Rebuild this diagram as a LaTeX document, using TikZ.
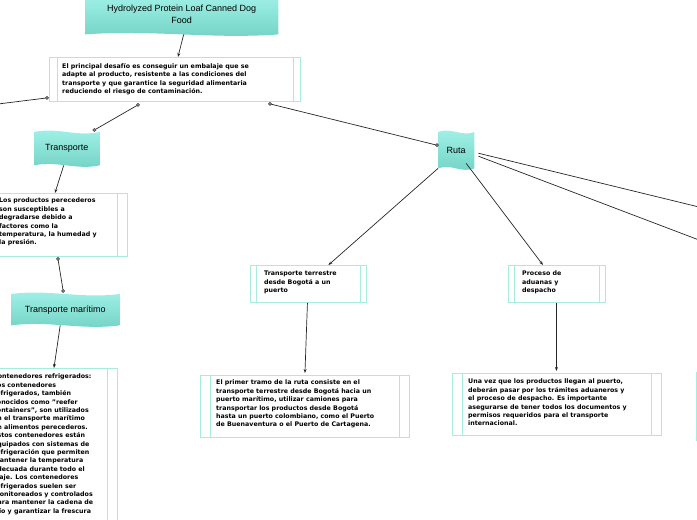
\documentclass[tikz,border=0pt]{standalone}
\usepackage{fontspec}
\setmainfont{DejaVu Sans}
\newfontfamily\flagfont{Liberation Sans}
\usetikzlibrary{calc,arrows.meta}
\definecolor{boxc}{HTML}{A8ECDC}
\definecolor{ftop}{HTML}{A2F2E8}
\definecolor{fbot}{HTML}{72D2C4}
\tikzset{
  box/.style={draw=boxc,line width=0.9pt,fill=white,inner sep=0pt,anchor=north west},
  txt/.style={anchor=north west,align=left,inner sep=0pt,font=\bfseries\fontsize{6.3}{8.4}\selectfont},
  flagn/.style={inner sep=0pt,anchor=north west,font=\flagfont\fontsize{9}{11.5}\selectfont,align=center},
  con/.style={draw=black!85,line width=0.7pt},
  arr/.style={con,-{Stealth[length=4pt,width=3pt]}},
  dot/.style={circle,fill=gray!70,draw=black!70,inner sep=0pt,minimum size=3pt}
}
\newcommand{\flagbg}[1]{%
  \path[top color=ftop,bottom color=fbot]
   (#1.north west) .. controls ($(#1.north west)!0.35!(#1.north east)+(0,-5)$) and ($(#1.north west)!0.65!(#1.north east)+(0,5)$) .. (#1.north east)
   -- (#1.south east) .. controls ($(#1.south west)!0.65!(#1.south east)+(0,5)$) and ($(#1.south west)!0.35!(#1.south east)+(0,-5)$) .. (#1.south west) -- cycle;}
\newcommand{\inner}[3]{%
  \draw[boxc,line width=0.9pt] ($(#1.north west)+(#2,0)$) -- ($(#1.south west)+(#2,0)$);
  \draw[boxc,line width=0.9pt] ($(#1.north east)+(-#3,0)$) -- ($(#1.south east)+(-#3,0)$);}
\begin{document}
\begin{tikzpicture}[x=1pt,y=-1pt]
\useasboundingbox (0,0) rectangle (697,520);
\clip (0,0) rectangle (697,520);
% flags
\node[flagn,minimum width=193pt,minimum height=36pt] (top) at (85,-2) {};
\flagbg{top}
\node[flagn] at ($(top.center)+(0,-2)$) [anchor=center] {Hydrolyzed Protein Loaf Canned Dog\\Food};
\node[flagn,minimum width=65pt,minimum height=33pt] (tr) at (34,132) {};
\flagbg{tr}
\node[flagn,anchor=center] at (tr.center) {Transporte};
\node[flagn,minimum width=108pt,minimum height=31pt] (tm) at (11,294) {};
\flagbg{tm}
\node[flagn,anchor=center] at (tm.center) {Transporte marítimo};
\node[flagn,minimum width=36pt,minimum height=36pt] (ruta) at (438,132) {};
\flagbg{ruta}
\node[flagn,anchor=center] at (ruta.center) {Ruta};
% boxes
\node[box,minimum width=251pt,minimum height=44pt] (main) at (49,57) {};
\inner{main}{8}{7}
\node[txt] at (62,63) {El principal desafío es conseguir un embalaje que se\\adapte al producto, resistente a las condiciones del\\transporte y que garantice la seguridad alimentaria\\reduciendo el riesgo de contaminación.};
\node[box,minimum width=133pt,minimum height=63pt] (b2) at (-6,193) {};
\inner{b2}{1}{10}
\node[txt] at (-1,198) {Los productos perecederos\\son susceptibles a\\degradarse debido a\\factores como la\\temperatura, la humedad y\\la presión.};
\node[box,minimum width=123pt,minimum height=170pt] (b3) at (-6,368) {};
\inner{b3}{1}{10}
\node[txt] at (-7,374) {Contenedores refrigerados:\\Los contenedores\\refrigerados, también\\conocidos como "reefer\\containers", son utilizados\\en el transporte marítimo\\de alimentos perecederos.\\Estos contenedores están\\equipados con sistemas de\\refrigeración que permiten\\mantener la temperatura\\adecuada durante todo el\\viaje. Los contenedores\\refrigerados suelen ser\\monitoreados y controlados\\para mantener la cadena de\\frío y garantizar la frescura};
\node[box,minimum width=116pt,minimum height=37pt] (tt) at (250,265) {};
\inner{tt}{6}{6}
\node[txt] at (264,271) {Transporte terrestre\\desde Bogotá a un\\puerto};
\node[box,minimum width=209pt,minimum height=62pt] (ttb) at (200,375) {};
\inner{ttb}{10}{10}
\node[txt] at (216,380) {El primer tramo de la ruta consiste en el\\transporte terrestre desde Bogotá hacia un\\puerto marítimo, utilizar camiones para\\transportar los productos desde Bogotá\\hasta un puerto colombiano, como el Puerto\\de Buenaventura o el Puerto de Cartagena.};
\node[box,minimum width=97pt,minimum height=37pt] (pa) at (508,265) {};
\inner{pa}{6}{6}
\node[txt] at (522,271) {Proceso de\\aduanas y\\despacho};
\node[box,minimum width=209pt,minimum height=62pt] (pab) at (452,373) {};
\inner{pab}{10}{10}
\node[txt] at (468,379) {Una vez que los productos llegan al puerto,\\deberán pasar por los trámites aduaneros y\\el proceso de despacho. Es importante\\asegurarse de tener todos los documentos y\\permisos requeridos para el transporte\\internacional.};
\node[box,minimum width=30pt,minimum height=68pt] (rb) at (696,372) {};
% off-canvas ends
\coordinate (offL) at (-2,104);
\coordinate (offR1) at (699,207);
\coordinate (offR2) at (699,240);
% connectors
\draw[arr] ($(top.south)+(2,0)$) -- ($(main.north)+(3,0)$);
\draw[con] ($(main.south west)+(-2,-4)$) node[dot]{} -- (offL);
\draw[con] ($(main.south west)+(89,3)$) node[dot]{} -- ($(tr.north east)+(-5,-2)$) node[dot]{};
\draw[con] ($(main.south west)+(221,2)$) node[dot]{} -- ($(ruta.west)+(-1,-5)$) node[dot]{};
\draw[arr] ($(tr.south)+(-3,0)$) -- ($(b2.north)+(-6,0)$);
\draw[con] ($(b2.south)+(-3,2)$) node[dot]{} -- ($(tm.north)+(-2,-3)$) node[dot]{};
\draw[arr] ($(tm.south)+(-5,0)$) -- ($(b3.north)+(-2,0)$);
\draw[arr] (ruta.south west) -- ($(tt.north)+(20,0)$);
\draw[arr] ($(ruta.south)+(10,-5)$) -- ($(pa.north)+(-14,0)$);
\draw[con] ($(ruta.east)+(4,3)$) -- (offR1);
\draw[con] ($(ruta.east)+(4,6)$) -- (offR2);
\draw[arr] ($(tt.south)+(-1,0)$) -- ($(ttb.north)+(0,-2)$);
\draw[arr] ($(pa.south)+(-0.5,0)$) -- ($(pab.north)+(-0.5,-2)$);
\end{tikzpicture}
\end{document}
